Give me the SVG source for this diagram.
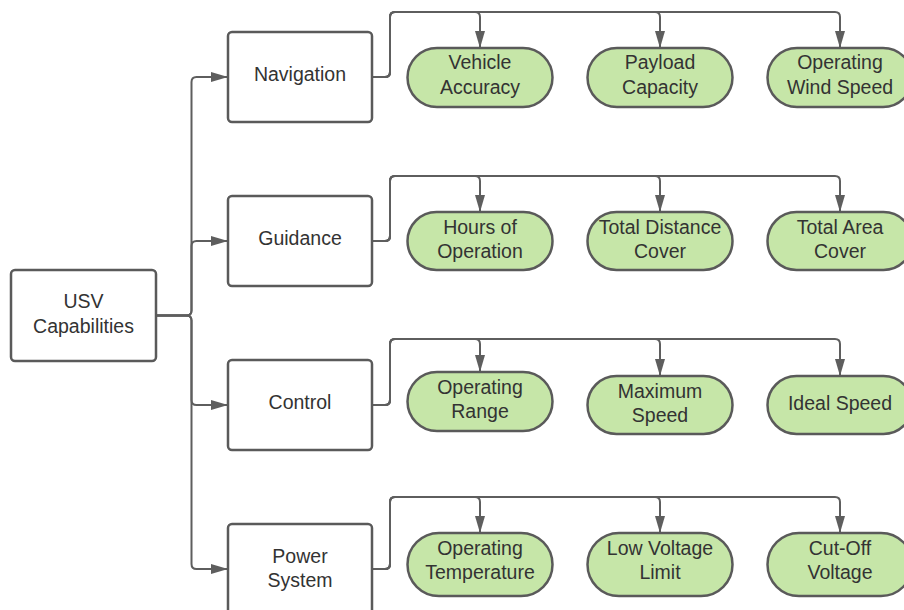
<svg xmlns="http://www.w3.org/2000/svg" width="904" height="610" viewBox="0 0 904 610">
<style>
.box{fill:#ffffff;stroke:#5a5a5a;stroke-width:2.5}
.pill{fill:#c6e6a8;stroke:#5a5a5a;stroke-width:2.5}
.t{font-family:"Liberation Sans",Arial,Helvetica,sans-serif;font-size:19.5px;fill:#333333;text-anchor:middle}
.c{fill:none;stroke:#5e5e5e;stroke-width:2;marker-end:url(#ah)}
</style>
<defs>
<marker id="ah" markerUnits="userSpaceOnUse" markerWidth="17" markerHeight="10" viewBox="0 0 17 10" refX="16" refY="5" orient="auto">
<path d="M0,0 L17,5 L0,10 z" fill="#5e5e5e"/>
</marker>
</defs>
<rect width="904" height="610" fill="#ffffff"/>
<g id="connectors">
<path class="c" d="M156,315.5 H186.5 Q191.5,315.5 191.5,310.5 V82 Q191.5,77 196.5,77 H227"/>
<path class="c" d="M156,315.5 H186.5 Q191.5,315.5 191.5,310.5 V246 Q191.5,241 196.5,241 H227"/>
<path class="c" d="M156,315.5 H186.5 Q191.5,315.5 191.5,320.5 V400 Q191.5,405 196.5,405 H227"/>
<path class="c" d="M156,315.5 H186.5 Q191.5,315.5 191.5,320.5 V564 Q191.5,569 196.5,569 H227"/>
<path class="c" d="M372,77 H385 Q390,77 390,72 V17 Q390,12 395,12 H475 Q480,12 480,17 V47"/>
<path class="c" d="M372,77 H385 Q390,77 390,72 V17 Q390,12 395,12 H655 Q660,12 660,17 V47"/>
<path class="c" d="M372,77 H385 Q390,77 390,72 V17 Q390,12 395,12 H835 Q840,12 840,17 V47"/>
<path class="c" d="M372,241 H385 Q390,241 390,236 V181 Q390,176 395,176 H475 Q480,176 480,181 V211"/>
<path class="c" d="M372,241 H385 Q390,241 390,236 V181 Q390,176 395,176 H655 Q660,176 660,181 V211"/>
<path class="c" d="M372,241 H385 Q390,241 390,236 V181 Q390,176 395,176 H835 Q840,176 840,181 V211"/>
<path class="c" d="M372,405 H385 Q390,405 390,400 V344 Q390,339 395,339 H475 Q480,339 480,344 V371"/>
<path class="c" d="M372,405 H385 Q390,405 390,400 V344 Q390,339 395,339 H655 Q660,339 660,344 V375"/>
<path class="c" d="M372,405 H385 Q390,405 390,400 V344 Q390,339 395,339 H835 Q840,339 840,344 V375"/>
<path class="c" d="M372,569 H385 Q390,569 390,564 V502 Q390,497 395,497 H475 Q480,497 480,502 V532"/>
<path class="c" d="M372,569 H385 Q390,569 390,564 V502 Q390,497 395,497 H655 Q660,497 660,502 V532"/>
<path class="c" d="M372,569 H385 Q390,569 390,564 V502 Q390,497 395,497 H835 Q840,497 840,502 V532"/>
</g>
<g id="usv">
<rect class="box" x="11" y="270" width="145" height="91" rx="4"/>
<text class="t" x="83.5" y="308">USV</text>
<text class="t" x="83.5" y="332.5">Capabilities</text>
</g>
<g id="navigation">
<rect class="box" x="228" y="32" width="144" height="90" rx="4"/>
<text class="t" x="300" y="81">Navigation</text>
</g>
<g id="guidance">
<rect class="box" x="228" y="196" width="144" height="90" rx="4"/>
<text class="t" x="300" y="245">Guidance</text>
</g>
<g id="control">
<rect class="box" x="228" y="360" width="144" height="90" rx="4"/>
<text class="t" x="300" y="409">Control</text>
</g>
<g id="power">
<rect class="box" x="228" y="524" width="144" height="90" rx="4"/>
<text class="t" x="300" y="562.5">Power</text>
<text class="t" x="300" y="586.5">System</text>
</g>
<g id="vehicle-accuracy">
<rect class="pill" x="407.5" y="48" width="145" height="59" rx="29.5"/>
<text class="t" x="480" y="69">Vehicle</text>
<text class="t" x="480" y="94">Accuracy</text>
</g>
<g id="payload-capacity">
<rect class="pill" x="587.5" y="48" width="145" height="59" rx="29.5"/>
<text class="t" x="660" y="69">Payload</text>
<text class="t" x="660" y="94">Capacity</text>
</g>
<g id="operating-wind-speed">
<rect class="pill" x="767.5" y="48" width="145" height="59" rx="29.5"/>
<text class="t" x="840" y="69">Operating</text>
<text class="t" x="840" y="94">Wind Speed</text>
</g>
<g id="hours-of-operation">
<rect class="pill" x="407.5" y="212" width="145" height="58" rx="29"/>
<text class="t" x="480" y="234">Hours of</text>
<text class="t" x="480" y="258">Operation</text>
</g>
<g id="total-distance-cover">
<rect class="pill" x="587.5" y="212" width="145" height="58" rx="29"/>
<text class="t" x="660" y="234">Total Distance</text>
<text class="t" x="660" y="258">Cover</text>
</g>
<g id="total-area-cover">
<rect class="pill" x="767.5" y="212" width="145" height="58" rx="29"/>
<text class="t" x="840" y="234">Total Area</text>
<text class="t" x="840" y="258">Cover</text>
</g>
<g id="operating-range">
<rect class="pill" x="407.5" y="372" width="145" height="59" rx="29.5"/>
<text class="t" x="480" y="394">Operating</text>
<text class="t" x="480" y="418">Range</text>
</g>
<g id="maximum-speed">
<rect class="pill" x="587.5" y="376" width="145" height="58" rx="29"/>
<text class="t" x="660" y="398">Maximum</text>
<text class="t" x="660" y="422">Speed</text>
</g>
<g id="ideal-speed">
<rect class="pill" x="767.5" y="376" width="145" height="58" rx="29"/>
<text class="t" x="840" y="410">Ideal Speed</text>
</g>
<g id="operating-temperature">
<rect class="pill" x="407.5" y="533" width="145" height="63" rx="31.5"/>
<text class="t" x="480" y="554.5">Operating</text>
<text class="t" x="480" y="579">Temperature</text>
</g>
<g id="low-voltage-limit">
<rect class="pill" x="587.5" y="533" width="145" height="63" rx="31.5"/>
<text class="t" x="660" y="554.5">Low Voltage</text>
<text class="t" x="660" y="579">Limit</text>
</g>
<g id="cut-off-voltage">
<rect class="pill" x="767.5" y="533" width="145" height="63" rx="31.5"/>
<text class="t" x="840" y="554.5">Cut-Off</text>
<text class="t" x="840" y="579">Voltage</text>
</g>
</svg>
